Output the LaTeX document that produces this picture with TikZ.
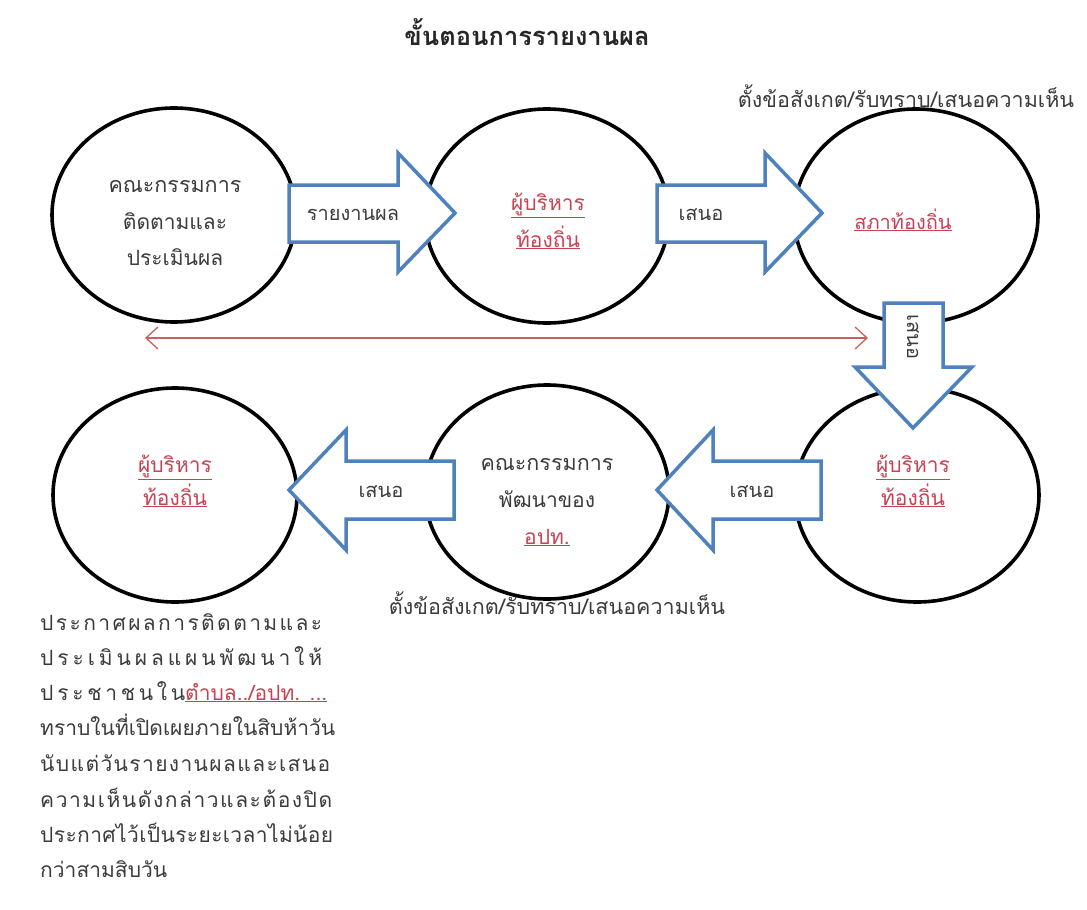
\documentclass[tikz,border=0pt]{standalone}
\usepackage{fontspec}
\setmainfont{Loma}[Script=Thai]
\usetikzlibrary{shapes.geometric,arrows.meta}
\definecolor{arrowblue}{RGB}{79,129,189}
\definecolor{redtext}{RGB}{200,66,82}
\definecolor{textgray}{RGB}{60,60,60}
\definecolor{redline}{RGB}{205,95,95}
\begin{document}
\begin{tikzpicture}[x=1pt,y=-1pt,
 circ/.style={ellipse, draw=black, line width=3.6pt, minimum width=244pt, minimum height=214pt, inner sep=0pt},
 barrow/.style={draw=arrowblue, fill=white, line width=3.5pt, line join=miter, miter limit=10},
 txt/.style={text=textgray, font=\fontsize{20}{24}\selectfont, anchor=base, inner sep=0pt},
 ctxt/.style={txt, font=\fontsize{21}{24}\selectfont},
 rtxt/.style={ctxt, text=redtext},
 sidelab/.style={txt, font=\fontsize{21.5}{24}\selectfont},
 paraline/.style={txt, anchor=base west, font=\fontsize{21}{24}\selectfont},
 redarr/.style={draw=redline, line width=1.3pt, {Straight Barb[length=12pt,width=22pt]}-{Straight Barb[length=12pt,width=22pt]}}
]
\useasboundingbox[fill=white] (0,0) rectangle (1087,910);

% title
\node[txt, text=black!85, font=\fontsize{25.5}{30}\selectfont\bfseries] (title) at (527,45) {ขั้นตอนการรายงานผล};

% circles
\node[circ] (c1) at (174,215) {};
\node[circ] (c2) at (547,216) {};
\node[circ] (c3) at (916,216) {};
\node[circ] (c4) at (175,495) {};
\node[circ] (c5) at (547,492) {};
\node[circ] (c6) at (917,495) {};

% block arrows
\draw[barrow] (289,185) -- (398,185) -- (398,153) -- (455,213) -- (398,272) -- (398,242) -- (289,242) -- cycle;
\draw[barrow] (657,185) -- (765,185) -- (765,153) -- (822,213) -- (765,272) -- (765,242) -- (657,242) -- cycle;
\draw[barrow] (884,303) -- (943,303) -- (943,367) -- (972,367) -- (913,428) -- (855,367) -- (884,367) -- cycle;
\draw[barrow] (821,461) -- (713,461) -- (713,430) -- (657,490) -- (713,550) -- (713,519) -- (821,519) -- cycle;
\draw[barrow] (454,461) -- (346,461) -- (346,430) -- (289,490) -- (346,550) -- (346,519) -- (454,519) -- cycle;

% arrow labels
\node[txt] (a1) at (353,220) {รายงานผล};
\node[txt] (a2) at (701,220) {เสนอ};
\node[txt, anchor=center, rotate=-90] (a3) at (913,337) {เสนอ};
\node[txt] (a4) at (752,497) {เสนอ};
\node[txt] (a5) at (381,497) {เสนอ};

% red double arrow
\coordinate (rl) at (145,338);
\coordinate (rr) at (868,338);
\draw[redarr] (rl) -- (rr);

% circle texts
\node[ctxt, font=\fontsize{21.5}{24}\selectfont] (t1a) at (175,192) {คณะกรรมการ};
\node[ctxt] (t1b) at (175,229) {ติดตามและ};
\node[ctxt] (t1c) at (175,265) {ประเมินผล};
\node[rtxt] (t2a) at (548,210) {\underline{ผู้บริหาร}};
\node[rtxt] (t2b) at (548,247) {\underline{ท้องถิ่น}};
\node[rtxt, font=\fontsize{20}{24}\selectfont] (t3a) at (903,229) {\underline{สภาท้องถิ่น}};
\node[rtxt] (t4a) at (175,472) {\underline{ผู้บริหาร}};
\node[rtxt] (t4b) at (175,505) {\underline{ท้องถิ่น}};
\node[ctxt, font=\fontsize{21.5}{24}\selectfont] (t5a) at (547,470) {คณะกรรมการ};
\node[ctxt] (t5b) at (547,507) {พัฒนาของ};
\node[rtxt] (t5c) at (547,544) {\underline{อปท.}};
\node[rtxt] (t6a) at (913,472) {\underline{ผู้บริหาร}};
\node[rtxt] (t6b) at (913,505) {\underline{ท้องถิ่น}};

% side labels
\node[sidelab] (lab1) at (906,107) {ตั้งข้อสังเกต/รับทราบ/เสนอความเห็น};
\node[sidelab] (lab2) at (557,614) {ตั้งข้อสังเกต/รับทราบ/เสนอความเห็น};

% paragraph
\node[paraline] (p1) at (40,630) {\makebox[282pt][s]{ป\hfil ร\hfil ะ\hfil ก\hfil า\hfil ศ\hfil ผ\hfil ล\hfil ก\hfil า\hfil ร\hfil ติ\hfil ด\hfil ต\hfil า\hfil ม\hfil แ\hfil ล\hfil ะ}};
\node[paraline] (p2) at (40,665) {\makebox[282pt][s]{ป\hfil ร\hfil ะ\hfil เ\hfil มิ\hfil น\hfil ผ\hfil ล\hfil แ\hfil ผ\hfil น\hfil พั\hfil ฒ\hfil น\hfil า\hfil ใ\hfil ห้}};
\node[paraline] (p3) at (40,700) {\makebox[145pt][s]{ป\hfil ร\hfil ะ\hfil ช\hfil า\hfil ช\hfil น\hfil ใ\hfil น}\textcolor{redtext}{\underline{ตำบล../อปท. ...}}};
\node[paraline] (p4) at (40,735) {ทราบในที่เปิดเผยภายในสิบห้าวัน};
\node[paraline] (p5) at (40,771) {\makebox[290pt][s]{นั\hfil บ\hfil แ\hfil ต่\hfil วั\hfil น\hfil ร\hfil า\hfil ย\hfil ง\hfil า\hfil น\hfil ผ\hfil ล\hfil แ\hfil ล\hfil ะ\hfil เ\hfil ส\hfil น\hfil อ}};
\node[paraline] (p6) at (40,807) {\makebox[292pt][s]{ค\hfil ว\hfil า\hfil ม\hfil เ\hfil ห็\hfil น\hfil ดั\hfil ง\hfil ก\hfil ล่\hfil า\hfil ว\hfil แ\hfil ล\hfil ะ\hfil ต้\hfil อ\hfil ง\hfil ปิ\hfil ด}};
\node[paraline] (p7) at (40,842) {\makebox[293pt][s]{ป\hfil ร\hfil ะ\hfil ก\hfil า\hfil ศ\hfil ไ\hfil ว้\hfil เ\hfil ป็\hfil น\hfil ร\hfil ะ\hfil ย\hfil ะ\hfil เ\hfil ว\hfil ล\hfil า\hfil ไ\hfil ม่\hfil น้\hfil อ\hfil ย}};
\node[paraline] (p8) at (40,877) {กว่าสามสิบวัน};
\end{tikzpicture}
\end{document}
